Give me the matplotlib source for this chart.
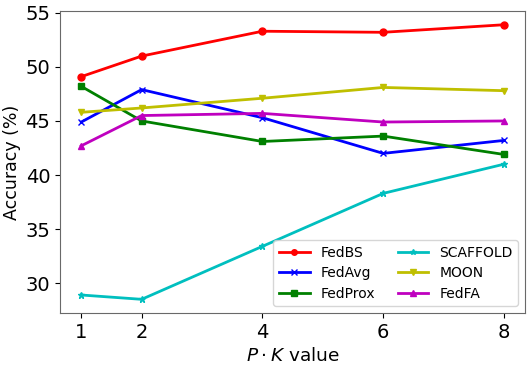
import numpy as np
import matplotlib.pyplot as plt

# Valores de P*K e acurácias (%)
pk = [1, 2, 4, 6, 8]
fedbs = [49.1, 51.0, 53.3, 53.2, 53.9]
fedavg = [44.9, 47.9, 45.3, 42.0, 43.2]
fedprox = [48.2, 45.0, 43.1, 43.6, 41.9]
scaffold = [28.9, 28.5, 33.4, 38.3, 41.0]
moon = [45.8, 46.2, 47.1, 48.1, 47.8]
fedfa = [42.7, 45.5, 45.7, 44.9, 45.0]

fig, ax = plt.subplots(figsize=(5.32, 3.67), dpi=100)
ax.plot(pk, fedbs, 'o-', color='r', linewidth=2, markersize=5, label='FedBS')
ax.plot(pk, fedavg, 'x-', color='b', linewidth=2, markersize=5, label='FedAvg')
ax.plot(pk, fedprox, 's-', color='g', linewidth=2, markersize=5, label='FedProx')
ax.plot(pk, scaffold, '*-', color='c', linewidth=2, markersize=5, label='SCAFFOLD')
ax.plot(pk, moon, 'v-', color='y', linewidth=2, markersize=5, label='MOON')
ax.plot(pk, fedfa, '^-', color='m', linewidth=2, markersize=5, label='FedFA')

ax.set_xticks(pk)
ax.set_xlabel(r'$P \cdot K$ value', fontsize=13.3)
ax.set_ylabel('Accuracy (%)', fontsize=12.5, labelpad=3)
ax.tick_params(labelsize=14)
for s in ax.spines.values():
    s.set_color('dimgray')
ax.legend(ncol=2, loc='lower right', fontsize=10, handlelength=2.2, columnspacing=1.6,
          labelspacing=0.45, markerscale=0.8)
plt.subplots_adjust(left=0.113, right=0.987, top=0.97, bottom=0.147)
plt.savefig('out.png')
